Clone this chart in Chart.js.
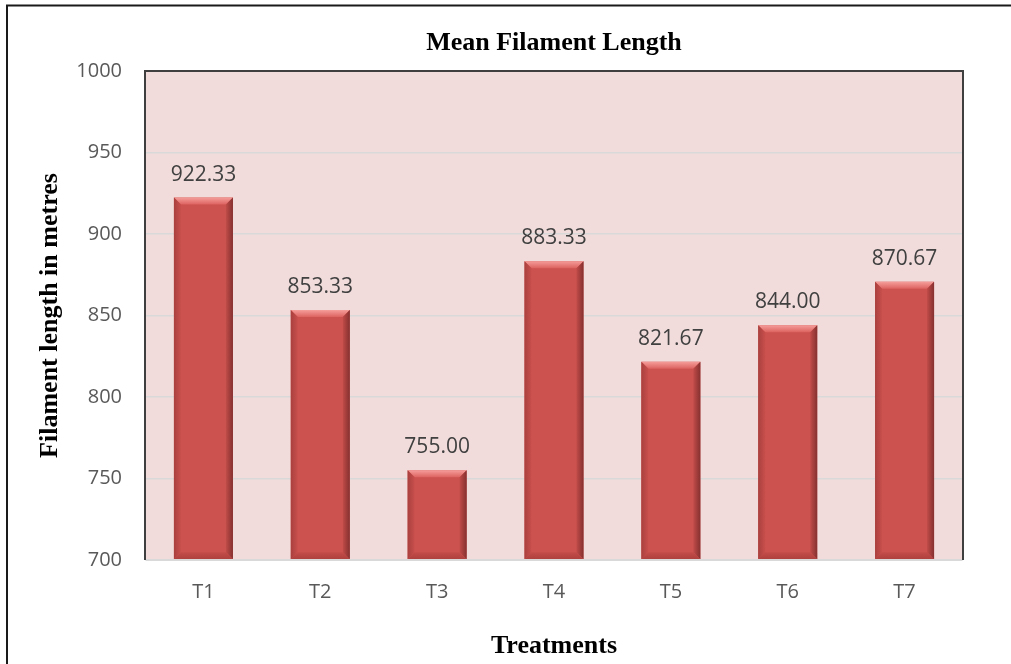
<!DOCTYPE html>
<html>
<head>
<meta charset="utf-8">
<script src="https://cdn.jsdelivr.net/npm/chart.js@4"></script>
<style>
  html, body { margin: 0; padding: 0; background: #fff; }
  #wrap { width: 1011px; height: 664px; position: relative; }
</style>
</head>
<body>
<div id="wrap"><canvas id="filamentChart" width="1011" height="664"></canvas></div>
<script>
// chart data
const treatments = ['T1', 'T2', 'T3', 'T4', 'T5', 'T6', 'T7'];
const filamentLength = [922.33, 853.33, 755.00, 883.33, 821.67, 844.00, 870.67];
const yTicks = [700, 750, 800, 850, 900, 950, 1000];
const chartTitle = 'Mean Filament Length';

// outer frame, pink plot background, plot border and the title over the plot
const framePlugin = {
    id: 'frame',
    beforeDraw(chart) {
        const { ctx, chartArea: a } = chart;
        ctx.save();
        ctx.fillStyle = '#f1dcdb';
        ctx.fillRect(a.left, a.top, a.right - a.left, a.bottom - a.top);
        ctx.restore();
    },
    afterDraw(chart) {
        const { ctx, chartArea: a } = chart;
        ctx.save();
        // outer border
        ctx.strokeStyle = '#1a1a1a';
        ctx.lineWidth = 2;
        ctx.beginPath();
        ctx.moveTo(7, 700);
        ctx.lineTo(7, 5.5);
        ctx.lineTo(1020, 5.5);
        ctx.stroke();
        // plot border
        ctx.strokeStyle = '#3f3f3f';
        ctx.beginPath();
        ctx.moveTo(a.left, a.bottom);
        ctx.lineTo(a.left, a.top);
        ctx.lineTo(a.right, a.top);
        ctx.lineTo(a.right, a.bottom);
        ctx.stroke();
        ctx.strokeStyle = '#d9d9d9';
        ctx.beginPath();
        ctx.moveTo(a.left + 1, a.bottom);
        ctx.lineTo(a.right - 1, a.bottom);
        ctx.stroke();
        // title, centred on the plot area
        ctx.fillStyle = '#000';
        ctx.font = 'bold 26px "Liberation Serif"';
        ctx.textAlign = 'center';
        ctx.textBaseline = 'alphabetic';
        ctx.fillText(chartTitle, (a.left + a.right) / 2, 50);
        ctx.restore();
    }
};

// excel-like bevel on each bar, plus value labels
const bevelPlugin = {
    id: 'bevel',
    afterDatasetsDraw(chart) {
        const { ctx } = chart;
        const meta = chart.getDatasetMeta(0);
        const b = 7;
        ctx.save();
        meta.data.forEach((bar, i) => {
            const { x, y, base, width } = bar.getProps(['x', 'y', 'base', 'width'], true);
            const l = x - width / 2, r = x + width / 2, t = y, bot = base;

            // top bevel
            let g = ctx.createLinearGradient(0, t, 0, t + b);
            g.addColorStop(0, '#f59d9a');
            g.addColorStop(1, '#dc625f');
            ctx.fillStyle = g;
            ctx.beginPath();
            ctx.moveTo(l, t); ctx.lineTo(r, t); ctx.lineTo(r - b, t + b); ctx.lineTo(l + b, t + b);
            ctx.closePath(); ctx.fill();

            // right bevel
            g = ctx.createLinearGradient(r - b, 0, r, 0);
            g.addColorStop(0, '#c04b48');
            g.addColorStop(1, '#853130');
            ctx.fillStyle = g;
            ctx.beginPath();
            ctx.moveTo(r, t); ctx.lineTo(r, bot); ctx.lineTo(r - b, bot - b); ctx.lineTo(r - b, t + b);
            ctx.closePath(); ctx.fill();

            // left bevel
            g = ctx.createLinearGradient(l, 0, l + b, 0);
            g.addColorStop(0, '#a9403e');
            g.addColorStop(1, '#c84f4c');
            ctx.fillStyle = g;
            ctx.beginPath();
            ctx.moveTo(l, t); ctx.lineTo(l + b, t + b); ctx.lineTo(l + b, bot - b); ctx.lineTo(l, bot);
            ctx.closePath(); ctx.fill();

            // bottom bevel
            g = ctx.createLinearGradient(0, bot - b, 0, bot);
            g.addColorStop(0, '#c44c49');
            g.addColorStop(1, '#ad403d');
            ctx.fillStyle = g;
            ctx.beginPath();
            ctx.moveTo(l, bot); ctx.lineTo(r, bot); ctx.lineTo(r - b, bot - b); ctx.lineTo(l + b, bot - b);
            ctx.closePath(); ctx.fill();

            // value label
            ctx.fillStyle = '#404040';
            ctx.font = '21px "Open Sans"';
            ctx.textAlign = 'center';
            ctx.textBaseline = 'alphabetic';
            ctx.fillText(filamentLength[i].toFixed(2), x, t - 17);
        });
        ctx.restore();
    }
};

new Chart(document.getElementById('filamentChart'), {
    type: 'bar',
    data: {
        labels: treatments,
        datasets: [{
            label: chartTitle,
            data: filamentLength,
            base: 700,
            backgroundColor: '#cb524f',
            borderWidth: 0,
            categoryPercentage: 1,
            barPercentage: 0.505
        }]
    },
    options: {
        responsive: false,
        animation: false,
        layout: { padding: { left: 35, top: 71, right: 48, bottom: 0 } },
        plugins: {
            legend: { display: false },
            tooltip: { enabled: false },
            title: { display: false }
        },
        scales: {
            x: {
                grid: { display: false, drawTicks: false },
                border: { display: false },
                ticks: { color: '#595959', font: { family: '"Open Sans"', size: 20 }, padding: 20 },
                title: {
                    display: true,
                    text: 'Treatments',
                    color: '#000',
                    font: { family: '"Liberation Serif"', size: 26, weight: 'bold', lineHeight: 1.2 },
                    padding: { top: 0, bottom: 2 }
                },
                afterFit(scale) { scale.height = 104; }
            },
            y: {
                min: 700,
                max: 1000,
                afterBuildTicks(scale) { scale.ticks = yTicks.map(v => ({ value: v })); },
                grid: { color: '#d9d9d9', lineWidth: 1.5, drawTicks: false },
                border: { display: false },
                ticks: {
                    color: '#595959',
                    font: { family: '"Open Sans"', size: 20 },
                    padding: 23,
                    callback: (v) => String(v)
                },
                title: {
                    display: true,
                    text: 'Filament length in metres',
                    color: '#000',
                    font: { family: '"Liberation Serif"', size: 26, weight: 'bold', lineHeight: 1.2 },
                    padding: { top: 0, bottom: 0 }
                },
                afterFit(scale) { scale.width = 110; }
            }
        }
    },
    plugins: [framePlugin, bevelPlugin]
});
</script>
</body>
</html>
